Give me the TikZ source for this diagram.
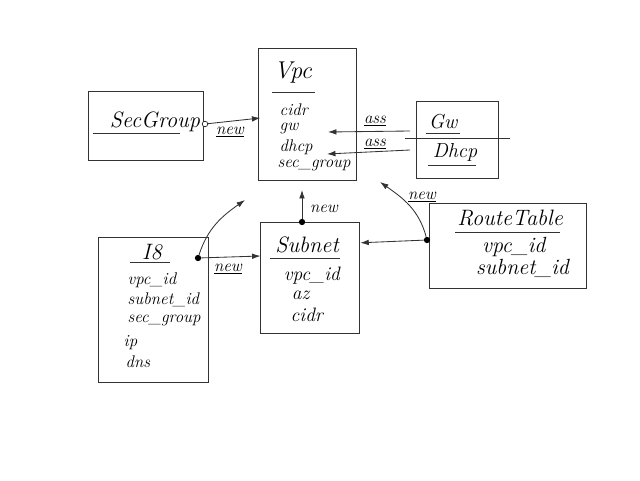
\documentclass[tikz,border=0pt]{standalone}
\usepackage{fontspec}
\usepackage{tikz}
\usetikzlibrary{arrows.meta}

\begin{document}
\begin{tikzpicture}[x=1cm,y=1cm,>={Latex[length=6pt,width=4pt]},
  box/.style={draw=black!80,line width=0.6pt,rectangle,inner sep=0pt},
  ttl/.style={font=\Large\itshape,inner sep=1pt},
  fld/.style={font=\large\itshape,inner sep=1pt,anchor=west},
  lbl/.style={font=\large\itshape,inner sep=1pt},
  ln/.style={black!80,line width=0.6pt},
  dot/.style={circle,fill=black,inner sep=0pt,minimum size=4.5pt},
  odot/.style={circle,draw=black,fill=white,inner sep=0pt,minimum size=4pt}]
  \useasboundingbox (0,0) rectangle (16,12);
  \node[box,minimum width=2.875cm,minimum height=1.725cm] (secgroup) at (3.66,8.86) {};
  \node[ttl,scale=1.1] (sgname) at (3.875,8.95) {SecGroup};
  \draw[ln] (2.325,8.675) -- (4.5,8.675);

  \node[box,minimum width=2.45cm,minimum height=3.3cm] (vpc) at (7.675,9.15) {};
  \node[ttl,scale=1.2] (vpcname) at (7.325,10.175) {Vpc};
  \draw[ln] (6.8,9.7) -- (7.875,9.7);
  \node[fld] (vcidr) at (6.95,9.25) {cidr};
  \node[fld] (vgw) at (6.95,8.78) {gw};
  \node[fld] (vdhcp) at (6.95,8.33) {dhcp};
  \node[fld] (vsec) at (6.9,7.87) {sec\_group};

  \node[box,minimum width=2.05cm,minimum height=1.925cm] (gwbox) at (11.425,8.51) {};
  \node[ttl] (gwname) at (11.075,8.95) {Gw};
  \draw[ln] (10.65,8.675) -- (11.5,8.675);
  \draw[ln] (10.125,8.55) -- (12.75,8.55);
  \node[ttl] (dhcpname) at (11.375,8.2) {Dhcp};
  \draw[ln] (10.7,7.875) -- (11.9,7.875);

  \node[box,minimum width=3.925cm,minimum height=2.125cm] (route) at (12.71,5.86) {};
  \node[ttl,scale=1.1] (rtname) at (12.75,6.55) {RouteTable};
  \draw[ln] (11.375,6.2) -- (14.0,6.2);
  \node[fld,scale=1.3] (rvpc) at (12.0,5.82) {vpc\_id};
  \node[fld,scale=1.3] (rsub) at (11.85,5.3) {subnet\_id};

  \node[box,minimum width=2.75cm,minimum height=3.625cm] (inst) at (3.825,4.26) {};
  \node[ttl,scale=1.1] (i8name) at (3.8,5.7) {I8};
  \draw[ln] (3.25,5.45) -- (4.25,5.45);
  \node[fld] (ivpc) at (3.15,5.0) {vpc\_id};
  \node[fld] (isub) at (3.15,4.5) {subnet\_id};
  \node[fld] (isec) at (3.15,4.0) {sec\_group};
  \node[fld] (iip) at (3.05,3.43) {ip};
  \node[fld] (idns) at (3.1,2.95) {dns};

  \node[box,minimum width=2.475cm,minimum height=2.775cm] (subnet) at (7.76,5.06) {};
  \node[ttl,scale=1.1] (snname) at (7.675,5.875) {Subnet};
  \draw[ln] (6.75,5.55) -- (8.5,5.55);
  \node[fld,scale=1.15] (svpc) at (7.05,5.1) {vpc\_id};
  \node[fld,scale=1.15] (saz) at (7.25,4.62) {az};
  \node[fld,scale=1.15] (scidr) at (7.22,4.14) {cidr};

  \node[odot] (sgdot) at (5.125,8.9) {};
  \node[dot] (sndot) at (7.55,6.45) {};
  \node[dot] (idot) at (4.95,5.55) {};
  \node[dot] (rdot) at (10.675,6.0) {};
  \coordinate (gwfrom) at (10.25,8.725);
  \coordinate (gwto) at (8.2,8.7);
  \coordinate (dhfrom) at (10.25,8.25);
  \coordinate (dhto) at (8.175,8.15);
  \coordinate (vpcbot) at (7.55,7.25);
  \coordinate (iup) at (6.125,7.0);
  \coordinate (rup) at (9.5,7.45);

  \draw[ln,->] (sgdot) -- ([xshift=2pt]vpc.west |- 0,9.05);
  \draw[ln,->] (gwfrom) -- (gwto);
  \draw[ln,->] (dhfrom) -- (dhto);
  \draw[ln,->] (sndot) -- (vpcbot);
  \draw[ln,->] (idot) -- (subnet.west |- 0,5.6);
  \draw[ln,->] (idot) to[out=72,in=215] (iup);
  \draw[ln,->] (rdot) -- (subnet.east |- 0,5.93);
  \draw[ln,->] (rdot) to[out=105,in=-35] (rup);

  \node[lbl] (sgnew) at (5.75,8.7) {\underline{new}};
  \node[lbl] (ass1) at (9.375,8.97) {\underline{ass}};
  \node[lbl] (ass2) at (9.375,8.4) {\underline{ass}};
  \node[lbl] (snnew) at (8.1,6.77) {new};
  \node[lbl] (inew) at (5.7,5.28) {\underline{new}};
  \node[lbl] (rnew) at (10.55,7.07) {\underline{new}};
\end{tikzpicture}
\end{document}
